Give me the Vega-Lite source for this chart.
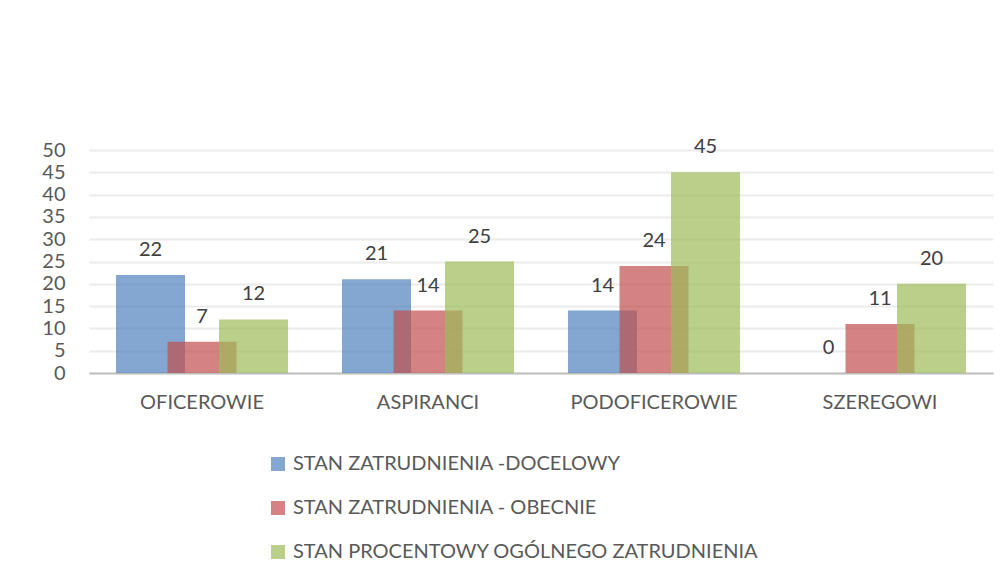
{
  "$schema": "https://vega.github.io/schema/vega-lite/v6.json",
  "autosize": "none",
  "width": 904,
  "height": 223,
  "padding": {"left": 89, "top": 150, "right": 14, "bottom": 204},
  "background": "white",
  "config": {
    "font": "Lato",
    "view": {"stroke": null}
  },
  "data": {
    "values": [
      {"kat": "OFICEROWIE", "seria": "STAN ZATRUDNIENIA -DOCELOWY", "v": 22},
      {"kat": "OFICEROWIE", "seria": "STAN ZATRUDNIENIA - OBECNIE", "v": 7},
      {"kat": "OFICEROWIE", "seria": "STAN PROCENTOWY OGÓLNEGO ZATRUDNIENIA", "v": 12},
      {"kat": "ASPIRANCI", "seria": "STAN ZATRUDNIENIA -DOCELOWY", "v": 21},
      {"kat": "ASPIRANCI", "seria": "STAN ZATRUDNIENIA - OBECNIE", "v": 14},
      {"kat": "ASPIRANCI", "seria": "STAN PROCENTOWY OGÓLNEGO ZATRUDNIENIA", "v": 25},
      {"kat": "PODOFICEROWIE", "seria": "STAN ZATRUDNIENIA -DOCELOWY", "v": 14},
      {"kat": "PODOFICEROWIE", "seria": "STAN ZATRUDNIENIA - OBECNIE", "v": 24},
      {"kat": "PODOFICEROWIE", "seria": "STAN PROCENTOWY OGÓLNEGO ZATRUDNIENIA", "v": 45},
      {"kat": "SZEREGOWI", "seria": "STAN ZATRUDNIENIA -DOCELOWY", "v": 0},
      {"kat": "SZEREGOWI", "seria": "STAN ZATRUDNIENIA - OBECNIE", "v": 11},
      {"kat": "SZEREGOWI", "seria": "STAN PROCENTOWY OGÓLNEGO ZATRUDNIENIA", "v": 20}
    ]
  },
  "encoding": {
    "x": {
      "field": "kat", "type": "nominal", "sort": null,
      "scale": {"paddingInner": 0, "paddingOuter": 0},
      "axis": {
        "title": null, "labelAngle": 0, "labelFontSize": 20, "labelColor": "#595959",
        "labelPadding": 19, "ticks": false, "domainColor": "#BFBFBF", "domainWidth": 2,
        "grid": false
      }
    },
    "xOffset": {
      "field": "seria", "type": "nominal", "sort": null,
      "scale": {"range": [35.75, 190.25], "paddingInner": 0, "paddingOuter": 0}
    },
    "y": {
      "field": "v", "type": "quantitative",
      "scale": {"domain": [0, 50], "nice": false},
      "axis": {
        "title": null, "values": [0,5,10,15,20,25,30,35,40,45,50],
        "labelFontSize": 20, "labelColor": "#595959", "labelPadding": 24,
        "ticks": false, "domain": false, "gridColor": "#EBEBEB", "gridWidth": 2
      }
    }
  },
  "layer": [
    {
      "mark": {"type": "bar", "size": 69, "opacity": 0.7},
      "encoding": {
        "color": {
          "field": "seria", "type": "nominal", "sort": null,
          "scale": {"range": ["#4F81BD", "#C0504D", "#9BBB59"]},
          "legend": {
            "title": null, "orient": "none", "legendX": 179, "legendY": 304,
            "direction": "vertical", "symbolType": "square", "symbolSize": 196,
            "symbolOpacity": 0.7, "symbolStrokeWidth": 0,
            "labelFontSize": 20, "labelColor": "#595959", "labelLimit": 600,
            "rowPadding": 24, "labelOffset": 5
          }
        }
      }
    },
    {
      "mark": {"type": "text", "fontSize": 20, "color": "#404040", "dy": -25, "baseline": "middle"},
      "encoding": {"text": {"field": "v", "type": "quantitative"}}
    }
  ]
}
